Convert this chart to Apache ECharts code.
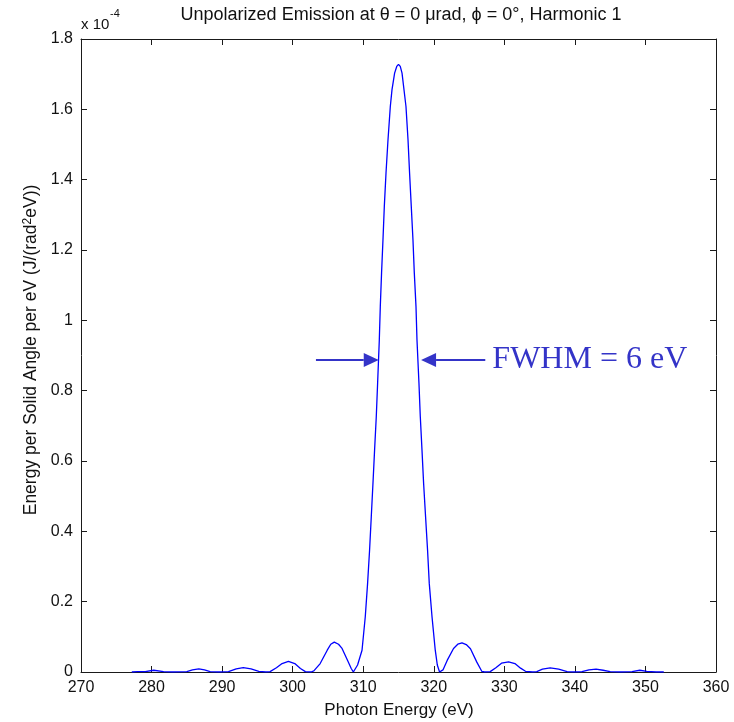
<!DOCTYPE html>
<html>
<head>
<meta charset="utf-8">
<script src="https://cdn.jsdelivr.net/npm/echarts@6/dist/echarts.min.js"></script>
<style>
html,body{margin:0;padding:0;background:#fff;}
#chart{width:734px;height:722px;}
</style>
</head>
<body>
<div id="chart"></div>
<script>
// Photon energy (eV)
const energy = [
 277.2, 278.0, 279.1, 280.3, 281.7, 283.0, 285.0, 285.8, 286.7, 287.5, 288.3, 289.5,
 290.9, 292.0, 293.0, 294.1, 295.2, 296.2, 296.8, 297.7, 298.5, 299.4, 300.3, 301.1,
 301.8, 302.6, 303.0, 303.9, 304.9, 305.4, 305.9, 306.5, 307.0, 307.9, 308.3, 308.6,
 309.2, 309.83, 310.29, 310.62, 310.90, 311.14, 311.38, 311.61, 311.85, 312.04, 312.28,
 312.42, 312.60, 312.80, 312.99, 313.23, 313.51, 313.84, 314.08, 314.45, 314.75, 315.0,
 315.25, 315.50, 316.06, 316.35, 316.57, 316.81, 317.05, 317.24, 317.48, 317.62, 317.90,
 318.09, 318.33, 318.56, 318.84, 319.12, 319.36, 319.75, 320.21, 320.5, 320.82,
 321.3, 321.9, 322.8, 323.4, 324.0, 324.6, 325.2, 326.1, 326.8, 327.2, 328.0, 328.8,
 329.6, 330.6, 331.5, 332.3, 333.0, 334.0, 334.6, 335.4, 336.5, 337.7, 338.9, 340.0,
 341.0, 342.0, 343.0, 344.0, 345.0, 346.5, 348.1, 349.2, 350.2, 351.5, 352.6
];
// Energy per solid angle per eV, in units of 1e-4 J/(rad^2 eV)
const intensity = [
 0.000, 0.001, 0.001, 0.005, 0.001, 0.000, 0.001, 0.006, 0.009, 0.006, 0.001, 0.000,
 0.001, 0.009, 0.0125, 0.009, 0.002, 0.000, 0.001, 0.012, 0.024, 0.030, 0.024, 0.010,
 0.001, 0.000, 0.003, 0.024, 0.062, 0.079, 0.085, 0.079, 0.067, 0.028, 0.010, 0.000,
 0.020, 0.062, 0.157, 0.252, 0.346, 0.441, 0.536, 0.631, 0.726, 0.821, 0.944,
 1.039, 1.135, 1.229, 1.324, 1.419, 1.513, 1.608, 1.656, 1.703, 1.722, 1.728,
 1.722, 1.703, 1.608, 1.513, 1.419, 1.324, 1.229, 1.135, 1.039, 0.944, 0.821,
 0.726, 0.631, 0.536, 0.441, 0.346, 0.252, 0.157, 0.062, 0.020, 0.000,
 0.006, 0.033, 0.067, 0.079, 0.083, 0.078, 0.066, 0.028, 0.002, 0.000, 0.001, 0.012,
 0.025, 0.029, 0.024, 0.011, 0.002, 0.000, 0.001, 0.008, 0.012, 0.008, 0.001, 0.000,
 0.001, 0.006, 0.008, 0.005, 0.001, 0.000, 0.001, 0.005, 0.002, 0.000, 0.000
];
const xTicks = [270, 280, 290, 300, 310, 320, 330, 340, 350, 360];
const yTicks = [0, 0.2, 0.4, 0.6, 0.8, 1, 1.2, 1.4, 1.6, 1.8];
// FWHM annotation arrows: [tailE, tipE, value]
const fwhmArrows = [[303.3, 312.2, 0.887], [327.3, 318.2, 0.887]];
const fwhmText = 'FWHM = 6 eV';
const fwhmTextAt = [328.3, 0.887];

const titleText = 'Unpolarized Emission at \u03B8 = 0 \u03BCrad, \u03D5 = 0\u00B0, Harmonic 1';

const chart = echarts.init(document.getElementById('chart'), null, {renderer: 'canvas'});
const FONT = '"Liberation Sans", Arial, Helvetica, sans-serif';
const AX = '#1a1a1a';
const axisCommon = (pos, showLabel) => ({
  type: 'value',
  position: pos,
  axisLine: {show: true, onZero: false, lineStyle: {color: AX, width: 1}},
  axisTick: {show: true, inside: true, length: 6, lineStyle: {color: AX, width: 1}},
  splitLine: {show: false},
  axisLabel: {show: showLabel, color: '#111', fontSize: 16, fontFamily: FONT, margin: 8}
});
const xa0 = Object.assign(axisCommon('bottom', true), {min: xTicks[0], max: xTicks[xTicks.length-1], interval: xTicks[1]-xTicks[0]});
const xa1 = Object.assign(axisCommon('top', false), {min: xTicks[0], max: xTicks[xTicks.length-1], interval: xTicks[1]-xTicks[0]});
const ya0 = Object.assign(axisCommon('left', true), {min: yTicks[0], max: yTicks[yTicks.length-1], interval: 0.2});
ya0.axisLabel.formatter = v => String(parseFloat(v.toFixed(1)));
const ya1 = Object.assign(axisCommon('right', false), {min: yTicks[0], max: yTicks[yTicks.length-1], interval: 0.2});

chart.setOption({
  animation: false,
  backgroundColor: '#fff',
  grid: {left: 81, right: 18, top: 39, bottom: 50, containLabel: false},
  xAxis: [xa0, xa1],
  yAxis: [ya0, ya1],
  series: [{
    type: 'line',
    xAxisIndex: 0, yAxisIndex: 0,
    data: energy.map((e, i) => [e, intensity[i]]),
    showSymbol: false,
    symbol: 'none',
    lineStyle: {color: '#0000ff', width: 1.3},
    z: 3
  }]
});

const ANN = '#3434c8';
const g = [];
fwhmArrows.forEach(a => {
  const p0 = chart.convertToPixel({gridIndex: 0}, [a[0], a[2]]);
  const p1 = chart.convertToPixel({gridIndex: 0}, [a[1], a[2]]);
  const dir = Math.sign(p1[0] - p0[0]);
  const headLen = 15, headHalf = 7;
  g.push({type: 'line', shape: {x1: p0[0], y1: p0[1], x2: p1[0] - dir*headLen, y2: p1[1]},
          style: {stroke: ANN, lineWidth: 2}, z: 10});
  g.push({type: 'polygon', shape: {points: [[p1[0], p1[1]], [p1[0]-dir*headLen, p1[1]-headHalf], [p1[0]-dir*headLen, p1[1]+headHalf]]},
          style: {fill: ANN}, z: 10});
});
const tp = chart.convertToPixel({gridIndex: 0}, fwhmTextAt);
g.push({type: 'text', x: tp[0], y: tp[1], style: {text: fwhmText, fill: ANN, font: '32px "Liberation Serif", "Times New Roman", serif', textAlign: 'left', textVerticalAlign: 'middle'}, z: 10});
// title
g.push({type: 'text', x: 401, y: 15, style: {text: titleText, fill: '#111', font: '18px ' + FONT, textAlign: 'center', textVerticalAlign: 'middle'}});
// exponent
g.push({type: 'text', x: 81, y: 25, style: {text: 'x 10', fill: '#111', font: '15px ' + FONT, textAlign: 'left', textVerticalAlign: 'middle'}});
g.push({type: 'text', x: 110, y: 14, style: {text: '-4', fill: '#111', font: '11px ' + FONT, textAlign: 'left', textVerticalAlign: 'middle'}});
// x axis name
g.push({type: 'text', x: 399, y: 710, style: {text: 'Photon Energy (eV)', fill: '#111', font: '17px ' + FONT, textAlign: 'center', textVerticalAlign: 'middle'}});
// y axis name with superscript
g.push({type: 'text', x: 31, y: 350, rotation: Math.PI/2, style: {
  text: '{a|Energy per Solid Angle per eV (J/(rad}{s|2}{a|eV))}',
  rich: {a: {font: '17.5px ' + FONT, fill: '#111', verticalAlign: 'bottom', lineHeight: 19},
         s: {font: '12px ' + FONT, fill: '#111', verticalAlign: 'top', padding: [0,0,8,0], lineHeight: 19}},
  textAlign: 'center', textVerticalAlign: 'middle'}});
chart.setOption({graphic: g});
</script>
</body>
</html>
